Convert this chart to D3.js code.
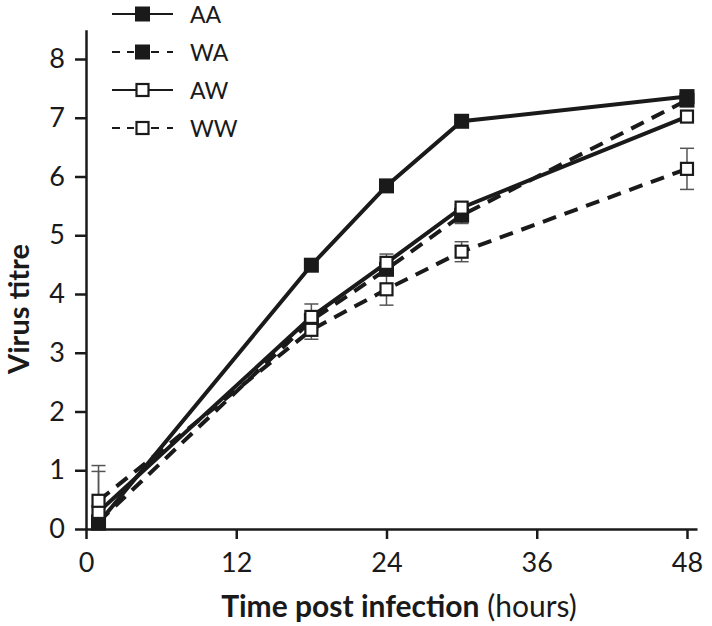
<!DOCTYPE html>
<html><head><meta charset="utf-8">
<script src="https://cdn.jsdelivr.net/npm/d3@7"></script>
<style>body{margin:0;background:#fff}svg{display:block}</style>
</head><body><svg id="c" width="712" height="626"></svg>
<script>
const times = [1, 18, 24, 30, 48];
const seriesNames = ["AA", "WA", "AW", "WW"];
const valuesAA = [0.10, 4.49, 5.84, 6.94, 7.36];
const valuesWA = [0.12, 3.55, 4.42, 5.34, 7.30];
const valuesAW = [0.29, 3.61, 4.53, 5.47, 7.02];
const valuesWW = [0.48, 3.39, 4.08, 4.72, 6.13];
const errAA = [0.02, 0.03, 0.03, 0.03, 0.03];
const errWA = [0.10, 0.08, 0.06, 0.14, 0.05];
const errAW = [0.69, 0.22, 0.15, 0.05, 0.05];
const errWW = [0.60, 0.16, 0.27, 0.17, 0.35];
const xTicks = [0, 12, 24, 36, 48];
const yTicks = [0, 1, 2, 3, 4, 5, 6, 7, 8];

const series = [
  {name: seriesNames[0], v: valuesAA, e: errAA, dashed: false, filled: true},
  {name: seriesNames[1], v: valuesWA, e: errWA, dashed: true, filled: true},
  {name: seriesNames[2], v: valuesAW, e: errAW, dashed: false, filled: false},
  {name: seriesNames[3], v: valuesWW, e: errWW, dashed: true, filled: false}
];

const ink = "#1a1a1a";
const font = "Lato, 'Open Sans', sans-serif";
const svg = d3.select("#c");
const x = d3.scaleLinear().domain([0, 48.8]).range([86, 697]);
const y = d3.scaleLinear().domain([0, 8.5]).range([529, 529 - 8.5 * 58.75]);

// axes
const xa = svg.append("g").attr("transform", "translate(0,529)")
  .call(d3.axisBottom(x).tickValues(xTicks).tickSize(10).tickSizeOuter(0).tickPadding(14));
const ya = svg.append("g").attr("transform", "translate(86,0)")
  .call(d3.axisLeft(y).tickValues(yTicks).tickSize(11).tickSizeOuter(0).tickPadding(10));
[xa, ya].forEach(a => {
  a.selectAll("path,line").attr("stroke", ink).attr("stroke-width", 2.5);
  a.selectAll("text").attr("fill", ink).style("font-family", font).style("font-size", "27px");
});

// titles
svg.append("text").attr("transform", "translate(29,309) rotate(-90)")
  .attr("text-anchor", "middle").attr("fill", ink)
  .style("font-family", font).style("font-size", "29px").style("font-weight", "bold")
  .text("Virus titre");
const xt = svg.append("text").attr("x", 399).attr("y", 617).attr("text-anchor", "middle")
  .attr("fill", ink).style("font-family", font).style("font-size", "30px");
xt.append("tspan").style("font-weight", "bold").text("Time post infection");
xt.append("tspan").text(" (hours)");

// error bars
series.forEach(s => {
  const g = svg.append("g").attr("stroke", "#555").attr("stroke-width", 1.5);
  times.forEach((t, i) => {
    const cx = x(t), y1 = y(s.v[i] + s.e[i]), y0 = y(Math.max(0, s.v[i] - s.e[i]));
    g.append("line").attr("x1", cx).attr("x2", cx).attr("y1", y1).attr("y2", y0);
    g.append("line").attr("x1", cx - 7).attr("x2", cx + 7).attr("y1", y1).attr("y2", y1);
    g.append("line").attr("x1", cx - 7).attr("x2", cx + 7).attr("y1", y0).attr("y2", y0);
  });
});

// lines
const line = d3.line().x((d, i) => x(times[i])).y(d => y(d));
series.forEach(s => {
  svg.append("path").datum(s.v).attr("d", line).attr("fill", "none")
    .attr("stroke", ink).attr("stroke-width", 4)
    .attr("stroke-dasharray", s.dashed ? "14,9" : null);
});

// markers
function marker(g, cx, cy, filled) {
  if (filled) {
    g.append("rect").attr("x", cx - 7.5).attr("y", cy - 7.5).attr("width", 15).attr("height", 15)
      .attr("fill", ink);
  } else {
    g.append("rect").attr("x", cx - 6).attr("y", cy - 6).attr("width", 12).attr("height", 12)
      .attr("fill", "#fff").attr("stroke", ink).attr("stroke-width", 2.2);
  }
}
series.forEach(s => {
  const g = svg.append("g");
  times.forEach((t, i) => marker(g, x(t), y(s.v[i]), s.filled));
});

// legend
const legY = [14, 52, 90, 128];
series.forEach((s, i) => {
  const g = svg.append("g");
  const ly = legY[i];
  if (s.dashed) {
    [[112, 120], [127, 134], [151, 159], [167, 173]].forEach(([a, b]) =>
      g.append("line").attr("x1", a).attr("x2", b).attr("y1", ly).attr("y2", ly)
        .attr("stroke", ink).attr("stroke-width", 2));
  } else {
    g.append("line").attr("x1", 112).attr("x2", 173).attr("y1", ly).attr("y2", ly)
      .attr("stroke", ink).attr("stroke-width", 2);
  }
  marker(g, 142.5, ly, s.filled);
  g.append("text").attr("x", 190).attr("y", ly + 8.5).attr("fill", ink)
    .style("font-family", font).style("font-size", "23px").text(s.name);
});
</script></body></html>
